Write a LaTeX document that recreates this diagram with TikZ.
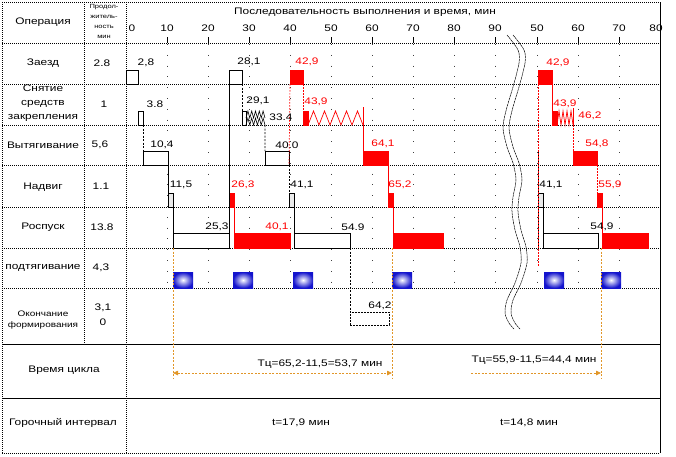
\documentclass[tikz,border=0pt]{standalone}
\usepackage{fontspec}
\setmainfont{Liberation Sans}[FakeStretch=1.25]
\usetikzlibrary{fit,arrows.meta}
\definecolor{myred}{RGB}{255,0,0}
\definecolor{myor}{RGB}{225,150,40}
\definecolor{myblue}{RGB}{20,20,205}
\newcommand\tbox[6]{\node[#1, fit={(#3,#5) (#4,#6)}] (#2) {};}
\tikzset{
 rowline/.style={line width=0.9pt, dash pattern=on 1pt off 1pt},
 colline/.style={line width=0.7pt, dash pattern=on 1pt off 1pt},
 gridten/.style={line width=0.7pt, dash pattern=on 0.8pt off 10pt, black!75},
 breakline/.style={line width=0.5pt, dash pattern=on 2.5pt off 0.6pt},
 wbox/.style={draw=black, line width=0.6pt, fill=white, inner sep=0pt, outer sep=0pt},
 gbox/.style={wbox, fill=black!8},
 dbox/.style={wbox, dash pattern=on 2pt off 1pt},
 rbox/.style={draw=myred, fill=myred, inner sep=0pt, outer sep=0pt},
 blu/.style={inner sep=0pt, outer sep=0pt, inner color=white, outer color=myblue},
 bconn/.style={line width=0.6pt},
 bdash/.style={bconn, dash pattern=on 2pt off 1.5pt},
 rconn/.style={myred, line width=0.7pt},
 rdot/.style={myred, line width=0.7pt, dash pattern=on 1.5pt off 1.5pt},
 oline/.style={myor, line width=0.8pt, dash pattern=on 2pt off 1.5pt},
 lbl/.style={font=\fontsize{9.5}{11}\selectfont, inner sep=0pt},
 rlbl/.style={lbl, text=myred},
}
\begin{document}
\begin{tikzpicture}[x=1pt,y=-1pt]
\useasboundingbox (0,0) rectangle (676,456);
% grid of 10-minute marks
\foreach \gx in {167,208,249,290,331,372,413,454,495,537,578,619}{
  \draw[gridten] (\gx,44) -- (\gx,288);
  \draw[line width=0.6pt] (\gx,37) -- (\gx,43);
}
% frame and rows
\draw[rowline] (2,2) -- (660,2);
\foreach \ry in {43,84,125,165,207,248,288}{\draw[rowline] (2,\ry) -- (660,\ry);}
\draw[line width=0.8pt] (2,344) -- (660,344);
\draw[line width=0.8pt] (2,398) -- (660,398);
\draw[rowline] (2,453) -- (660,453);
\draw[colline] (2,2) -- (2,453);
\draw[colline] (84,2) -- (84,344);
\draw[colline] (126,2) -- (126,453);
\draw[line width=0.8pt] (660,2) -- (660,453);
% break line
\draw[breakline] plot[smooth] coordinates {(507,35) (518,50) (519,63) (513,87) (507,107) (503,127) (507,147) (513,163) (516,180) (513,197) (512,212) (515,230) (520,247) (521,263) (515,283) (507,300) (505,313) (509,323) (514,329)};
\draw[breakline] plot[smooth] coordinates {(513,35) (524,50) (525,63) (519,87) (513,107) (509,127) (513,147) (519,163) (522,180) (519,197) (518,212) (521,230) (526,247) (527,263) (521,283) (513,300) (511,313) (515,323) (520,329)};
% boxes (black chain)
\tbox{wbox}{A1}{126}{138}{70}{84}
\tbox{wbox}{A2}{138}{143}{111}{125}
\tbox{wbox}{A3}{143}{168}{151}{165}
\tbox{gbox}{A4}{168}{173}{193}{207}
\tbox{wbox}{A5}{173}{229}{233}{248}
\tbox{wbox}{B1}{229}{242}{70}{84}
\tbox{wbox}{B2}{242}{246}{111}{125}
\tbox{wbox}{B3}{265}{289}{151}{165}
\tbox{gbox}{B4}{289}{294}{193}{207}
\tbox{wbox}{B5}{294}{350}{233}{248}
\tbox{dbox}{B6}{350}{389}{312}{325}
\tbox{gbox}{K4}{538}{543}{193}{207}
\tbox{wbox}{K5}{543}{598}{233}{248}
% red chain
\tbox{rbox}{R1}{290}{303}{70}{84}
\tbox{rbox}{R2}{303}{308}{111}{125}
\tbox{rbox}{R3}{363}{388}{151}{165}
\tbox{rbox}{R4}{388}{393}{193}{207}
\tbox{rbox}{R5}{393}{443}{233}{248}
\tbox{rbox}{Rn}{229}{234}{193}{207}
\tbox{rbox}{Rr}{234}{290}{233}{248}
\tbox{rbox}{S1}{538}{552}{70}{84}
\tbox{rbox}{S2}{552}{557}{111}{125}
\tbox{rbox}{S3}{573}{597}{151}{165}
\tbox{rbox}{S4}{597}{602}{193}{207}
\tbox{rbox}{S5}{602}{648}{233}{248}
% zigzags
\draw[bconn] (B2.south east) \foreach \k in {1,...,5}{ -- ++(1.9,-7) -- ++(1.9,7)} coordinate (B2z);
\draw[bconn] (B2.east) \foreach \k in {1,...,5}{ -- ++(1.9,-7) -- ++(1.9,7)};
\draw[rconn] (R2.south east) \foreach \k in {1,...,5}{ -- ++(5.5,-14) -- ++(5.5,14)} coordinate (R2z);
\draw[rconn] (363,107) -- (R2z);
\draw[rconn] (S2.south east) \foreach \k in {1,...,4}{ -- ++(2,-14) -- ++(2,14)} coordinate (S2z);
\draw[rconn] (573,108) -- (S2z);
% connectors black
\draw[bdash] (A2.south east) -- (A3.north west);
\draw[bconn] (A3.south east) -- (A4.north west);
\draw[bconn] (A4.south east) -- (A5.north west);
\draw[bconn] (A5.south east) -- (B1.north west);
\draw[bdash] (B1.south east) -- (B2.north west);
\draw[bdash] (B2z) -- (B3.north west);
\draw[bdash] (B3.south east) -- (B4.north west);
\draw[bconn] (B4.south east) -- (B5.north west);
\draw[bdash] (B5.south east) -- (B6.north west);
\coordinate (K0) at (538,152);
\coordinate (K1) at (538,248);
\draw[bconn] (K0) -- (K1);
\draw[bconn] (K4.south east) -- (K5.north west);
% connectors red
\draw[rdot] (R1.south west) -- (B3.south east);
\draw[rdot] (R1.south east) -- (R2.north west);
\draw[rconn] (R2z) -- (R3.north west);
\draw[rconn] (R3.south east) -- (R4.north west);
\draw[rconn] (R4.south east) -- (R5.north west);
\draw[rconn] (Rn.south east) -- (Rr.north west);
\coordinate (S0) at (538,267);
\draw[rdot] (S1.south west) -- (S0);
\draw[rconn] (S1.south east) -- (S2.north west);
\draw[rdot] (S2z) -- (S3.north west);
\draw[rdot] (S3.south east) -- (S4.north west);
\draw[rconn] (S4.south east) -- (S5.north west);
% pull-up squares
\tbox{blu}{P1}{173}{193}{272}{288}
\tbox{blu}{P2}{233}{253}{272}{288}
\tbox{blu}{P3}{293}{313}{272}{288}
\tbox{blu}{P4}{392}{412}{272}{288}
\tbox{blu}{P5}{544}{564}{272}{288}
\tbox{blu}{P6}{601}{621}{272}{288}
% cycle time
\coordinate (O1) at (173,378);
\coordinate (O2) at (392,378);
\coordinate (O3) at (601,378);
\draw[oline] (A5.south west) -- (O1);
\draw[oline] (P4.north west) ++(0,-24) coordinate (O2t) -- (O2);
\draw[oline] (P6.north west) ++(0,-24) coordinate (O3t) -- (O3);
\coordinate (T1a) at (173,373);
\coordinate (T1b) at (392,373);
\coordinate (T2a) at (471,373);
\coordinate (T2b) at (601,373);
\draw[oline, {Triangle[length=5pt,width=4.5pt]}-{Triangle[length=5pt,width=4.5pt]}] (T1a) -- (T1b);
\draw[oline, -{Triangle[length=5pt,width=4.5pt]}] (T2a) -- (T2b);
\node[lbl] (tc1) at (320,364) {Тц=65,2-11,5=53,7 мин};
\node[lbl] (tc2) at (534,360) {Тц=55,9-11,5=44,4 мин};
\node[lbl] (gi1) at (301,423) {t=17,9 мин};
\node[lbl] (gi2) at (529,423) {t=14,8 мин};
% header
\node[lbl] (hOp) at (43,22) {Операция};
\node[font=\fontsize{6}{10}\selectfont, align=center, inner sep=0pt] (hNorm) at (104,21) {Продол-\\житель-\\ность\\мин};
\node[lbl] (hSeq) at (365,12) {Последовательность выполнения и время, мин};
\foreach \tv/\tx [count=\i] in {0/132,10/167,20/208,30/249,40/290,50/331,60/372,70/413,80/454,90/495,50/537,60/578,70/619,80/656}{
  \node[lbl] (tick\i) at (\tx,28) {\tv};
}
% row labels
\node[lbl] (op1) at (43,63) {Заезд};
\node[lbl, align=center, font=\fontsize{9.5}{14}\selectfont] (op2) at (43,103) {Снятие\\средств\\закрепления};
\node[lbl] (op3) at (43,145) {Вытягивание};
\node[lbl] (op4) at (43,187) {Надвиг};
\node[lbl] (op5) at (43,227) {Роспуск};
\node[lbl] (op6) at (43,268) {подтягивание};
\node[align=center, inner sep=0pt, font=\fontsize{8}{11}\selectfont] (op7) at (43,320) {Окончание\\формирования};
\node[lbl] (op8) at (64,370) {Время цикла};
\node[lbl] (op9) at (63,423) {Горочный интервал};
% norms
\node[lbl] (nm1) at (102,63) {2.8};
\node[lbl] (nm2) at (104,104) {1};
\node[lbl] (nm3) at (100,145) {5,6};
\node[lbl] (nm4) at (101,186) {1.1};
\node[lbl] (nm5) at (102,227) {13.8};
\node[lbl] (nm6) at (101,268) {4,3};
\node[lbl, align=center, font=\fontsize{9.5}{15}\selectfont] (nm7) at (103,315) {3,1\\0};
% value labels
\foreach \nm/\xx/\yy/\tt in {L1/146/63/{2,8},L2/249/62/{28,1},L3/155/104/{3.8},L4/258/101/{29,1},L5/281/117/{33.4},L6/162/145/{10,4},L7/287/145/{40.0},L8/181/185/{11,5},L9/302/185/{41,1},L10/217/227/{25,3},L11/353/227/{54.9},L12/380/306/{64,2},L13/551/185/{41,1},L14/602/227/{54,9}}{
  \node[lbl] (\nm) at (\xx,\yy) {\tt};
}
\foreach \nm/\xx/\yy/\tt in {M1/307/62/{42,9},M2/316/102/{43,9},M3/383/144/{64,1},M4/243/185/{26,3},M5/400/185/{65,2},M6/277/227/{40,1},M7/558/63/{42,9},M8/565/104/{43,9},M9/590/116/{46,2},M10/597/144/{54,8},M11/610/185/{55,9}}{
  \node[rlbl] (\nm) at (\xx,\yy) {\tt};
}
\end{tikzpicture}
\end{document}
